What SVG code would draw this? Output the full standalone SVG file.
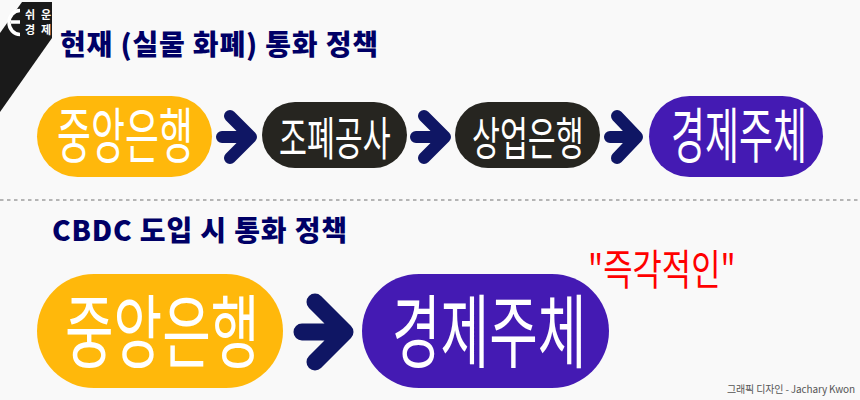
<svg xmlns="http://www.w3.org/2000/svg" width="860" height="400" viewBox="0 0 860 400">
<style>
.t{font-family:"Noto Sans CJK KR","Noto Sans",sans-serif}
.h{font-size:28px;font-weight:900;fill:#000066}
.p{font-weight:400;fill:#fff}
.a{fill:none;stroke:#0f1664;stroke-linecap:round;stroke-linejoin:round}
</style>
<rect width="860" height="400" fill="#f9f9f9"/>
<g id="logo">
<polygon points="0,33 22,2 52,2 52,38 0,112" fill="#1a1a1a"/>
<path d="M20,10.500 A11,12 0 1 0 20,34.500 M11,22 H20" fill="none" stroke="#fff" stroke-width="3.500"/>
<text class="t" x="25" y="19" font-size="11" font-weight="700" fill="#fff" textLength="26" lengthAdjust="spacing">쉬운</text>
<text class="t" x="25" y="34" font-size="11" font-weight="700" fill="#fff" textLength="26" lengthAdjust="spacing">경제</text>
</g>
<text class="t h" x="60" y="55" textLength="318">현재 (실물 화폐) 통화 정책</text>
<line x1="0" y1="200" x2="860" y2="200" stroke="#b5b5b5" stroke-width="2" stroke-dasharray="3.500 3.500"/>
<text class="t h" x="52" y="241" textLength="295">CBDC 도입 시 통화 정책</text>
<g id="connectors">
<path class="a" stroke-width="12" d="M222,137 H250 M230,116 L251,137 L230,158"/>
<path class="a" stroke-width="12" d="M416,137 H444 M424,116 L445,137 L424,158"/>
<path class="a" stroke-width="12" d="M610,137 H636 M617,116 L637,137 L617,158"/>
<path class="a" stroke-width="17" d="M302,332 H340 M315,302 L345,332 L315,362"/>
</g>
<g id="n1"><rect x="37" y="96" width="175" height="81" rx="40.500" fill="#ffb80b"/>
<text class="t p" transform="translate(57,158) scale(.616,1)" font-size="60">중앙은행</text></g>
<g id="n2"><rect x="262" y="102" width="145" height="66" rx="33" fill="#262520"/>
<text class="t p" transform="translate(279,155) scale(.66,1)" font-size="46">조폐공사</text></g>
<g id="n3"><rect x="455" y="102" width="145" height="66" rx="33" fill="#262520"/>
<text class="t p" transform="translate(472,155) scale(.66,1)" font-size="46">상업은행</text></g>
<g id="n4"><rect x="649" y="96" width="174" height="81" rx="40.500" fill="#441ab3"/>
<text class="t p" transform="translate(671,158) scale(.616,1)" font-size="60">경제주체</text></g>
<g id="n5"><rect x="37" y="274" width="246" height="114" rx="57" fill="#ffb80b"/>
<text class="t p" transform="translate(65,361) scale(.66,1)" font-size="80">중앙은행</text></g>
<g id="n6"><rect x="362" y="274" width="247" height="114" rx="57" fill="#441ab3"/>
<text class="t p" transform="translate(392,361) scale(.66,1)" font-size="80">경제주체</text></g>
<text class="t" transform="translate(588,285) scale(.76,1)" font-size="42" font-weight="400" fill="#ff0000">"즉각적인"</text>
<text class="t" x="727" y="393" font-size="10" fill="#555" textLength="128">그래픽 디자인 - Jachary Kwon</text>
</svg>
